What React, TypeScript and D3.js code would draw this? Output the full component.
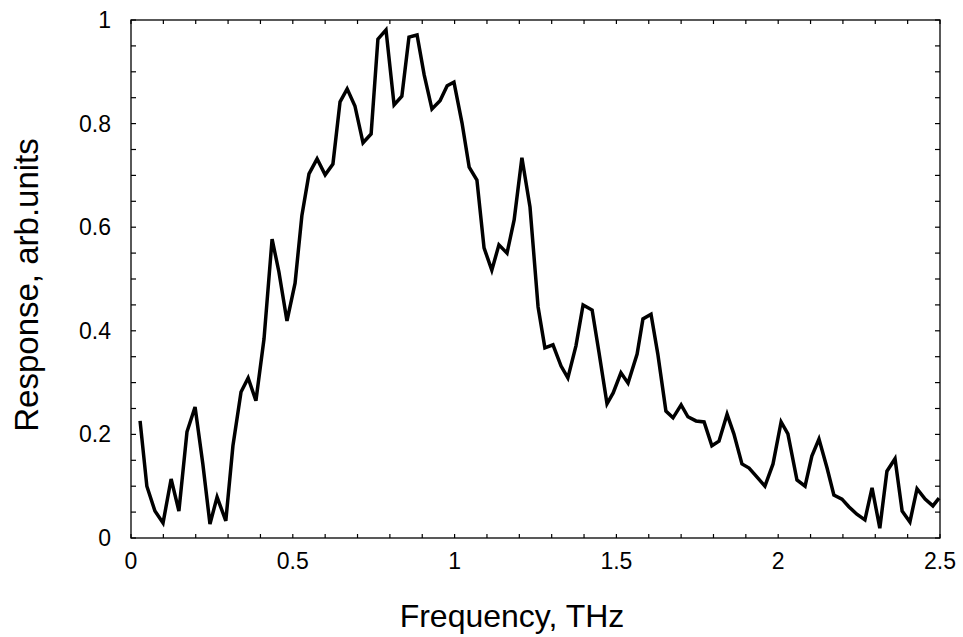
import React from "react";
import * as d3 from "d3";

const frequency = [
  0.028, 0.049, 0.074, 0.099, 0.124, 0.148, 0.173, 0.198, 0.222, 0.244,
  0.266, 0.293, 0.315, 0.34, 0.362, 0.386, 0.411, 0.436, 0.457, 0.482,
  0.507, 0.528, 0.55, 0.575, 0.6, 0.624, 0.646, 0.668, 0.692, 0.717,
  0.742, 0.763, 0.788, 0.813, 0.837, 0.859, 0.884, 0.906, 0.93, 0.955,
  0.977, 0.998, 1.023, 1.045, 1.069, 1.091, 1.115, 1.137, 1.162, 1.184,
  1.208, 1.233, 1.258, 1.279, 1.304, 1.329, 1.35, 1.375, 1.397, 1.425,
  1.446, 1.471, 1.49, 1.514, 1.536, 1.564, 1.582, 1.607, 1.628, 1.653,
  1.675, 1.7, 1.721, 1.746, 1.771, 1.795, 1.817, 1.842, 1.863, 1.888,
  1.91, 1.934, 1.959, 1.984, 2.009, 2.03, 2.058, 2.083, 2.104, 2.126,
  2.151, 2.172, 2.197, 2.219, 2.243, 2.268, 2.29, 2.314, 2.336, 2.361,
  2.383, 2.407, 2.429, 2.454, 2.478, 2.497,
];

const response = [
  0.226, 0.1, 0.052, 0.029, 0.114, 0.052, 0.205, 0.253, 0.143, 0.027,
  0.079, 0.033, 0.178, 0.282, 0.309, 0.265, 0.384, 0.577, 0.514, 0.419,
  0.492, 0.622, 0.703, 0.732, 0.701, 0.722, 0.842, 0.867, 0.834, 0.763,
  0.78, 0.963, 0.981, 0.836, 0.853, 0.967, 0.971, 0.894, 0.828, 0.844,
  0.873, 0.88, 0.801, 0.716, 0.691, 0.56, 0.517, 0.566, 0.55, 0.614,
  0.734, 0.639, 0.446, 0.367, 0.373, 0.332, 0.309, 0.371, 0.45, 0.44,
  0.359, 0.259, 0.28, 0.319, 0.299, 0.355, 0.423, 0.432, 0.355, 0.245,
  0.232, 0.257, 0.234, 0.226, 0.224, 0.178, 0.187, 0.239, 0.201, 0.143,
  0.135, 0.118, 0.1, 0.143, 0.224, 0.201, 0.112, 0.1, 0.158, 0.191,
  0.135, 0.083, 0.075, 0.06, 0.046, 0.035, 0.097, 0.019, 0.129, 0.153,
  0.052, 0.031, 0.095, 0.075, 0.062, 0.077,
];

const xTickLabels = ["0", "0.5", "1", "1.5", "2", "2.5"];
const yTickLabels = ["0", "0.2", "0.4", "0.6", "0.8", "1"];
const xTitle = "Frequency, THz";
const yTitle = "Response, arb.units";

export default function App() {
  const W = 963;
  const H = 637;
  const left = 131, right = 940, top = 20, bottom = 538;
  const x = d3.scaleLinear().domain([0, 2.5]).range([left, right]);
  const y = d3.scaleLinear().domain([0, 1]).range([bottom, top]);

  const pts: [number, number][] = frequency.map((f, i) => [f, response[i]]);
  const line = d3
    .line<[number, number]>()
    .x((d) => x(d[0]))
    .y((d) => y(d[1]));

  const xMinor = d3.range(0, 26).map((i) => i / 10);
  const yMinor = d3.range(0, 21).map((i) => i / 20);
  const font = "'Liberation Sans', Arial, Helvetica, sans-serif";

  return (
    <svg
      width={W}
      height={H}
      style={{ position: "absolute", left: 0, top: 0, background: "#fff" }}
      fontFamily={font}
    >
      <rect x={0} y={0} width={W} height={H} fill="#fff" />
      <rect
        x={left}
        y={top}
        width={right - left}
        height={bottom - top}
        fill="none"
        stroke="#000"
        strokeWidth={1.3}
      />
      {xMinor.map((v, i) => (
        <g key={"xt" + i}>
          <line x1={x(v)} x2={x(v)} y1={bottom} y2={bottom - 4} stroke="#000" strokeWidth={1.2} />
          <line x1={x(v)} x2={x(v)} y1={top} y2={top + 4} stroke="#000" strokeWidth={1.2} />
        </g>
      ))}
      {yMinor.map((v, i) => (
        <g key={"yt" + i}>
          <line x1={left} x2={left + 5} y1={y(v)} y2={y(v)} stroke="#000" strokeWidth={1.2} />
          <line x1={right} x2={right - 5} y1={y(v)} y2={y(v)} stroke="#000" strokeWidth={1.2} />
        </g>
      ))}
      {xTickLabels.map((t) => (
        <text
          key={"xl" + t}
          x={x(+t)}
          y={569}
          textAnchor="middle"
          fontSize={23}
          fill="#000"
        >
          {t}
        </text>
      ))}
      {yTickLabels.map((t) => (
        <text
          key={"yl" + t}
          x={111}
          y={y(+t) + 8}
          textAnchor="end"
          fontSize={23}
          fill="#000"
        >
          {t}
        </text>
      ))}
      <path
        d={line(pts) || ""}
        fill="none"
        stroke="#000"
        strokeWidth={3.5}
        strokeLinejoin="miter"
        strokeMiterlimit={4}
      />
      <text x={512} y={627} textAnchor="middle" fontSize={32} fill="#000">
        {xTitle}
      </text>
      <text
        transform={`translate(38, 285) rotate(-90)`}
        textAnchor="middle"
        fontSize={33}
        fill="#000"
      >
        {yTitle}
      </text>
    </svg>
  );
}
